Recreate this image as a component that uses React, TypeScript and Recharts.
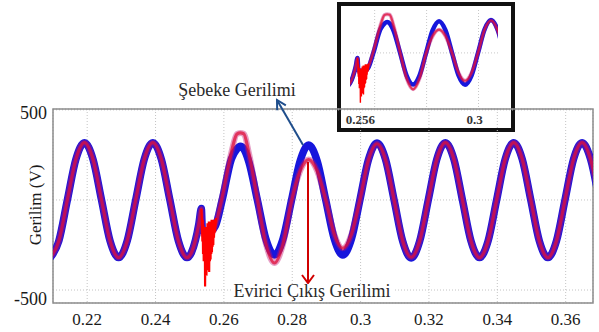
import { LineChart, Line, XAxis, YAxis, CartesianGrid, ReferenceArea } from 'recharts';

// time (s) shared by both voltage traces
const time = [
  0.2092, 0.2117, 0.2142, 0.2167, 0.2192, 0.2217, 0.2242, 0.2267, 0.2292, 0.2317,
  0.2342, 0.2367, 0.2392, 0.2417, 0.2442, 0.2467, 0.2492,
  0.2505, 0.2517, 0.2527, 0.2534, 0.2537, 0.256, 0.2575, 0.2595,
  0.2622, 0.2638, 0.2648, 0.2658, 0.2673, 0.2698, 0.2723, 0.2748, 0.2773, 0.2798,
  0.2823, 0.2848, 0.2873, 0.2898, 0.2923, 0.2948, 0.2973, 0.2998, 0.3023, 0.3048,
  0.3073, 0.3098, 0.3123, 0.3148, 0.3173, 0.3198, 0.3223, 0.3248, 0.3273, 0.3298,
  0.3323, 0.3348, 0.3373, 0.3398, 0.3423, 0.3448, 0.3473, 0.3498, 0.3523, 0.3548,
  0.3573, 0.3598, 0.3623, 0.3648, 0.3673, 0.3698,
];

// Şebeke gerilimi (blue)
const gridVoltage = [
  -320, -228, 0, 226, 318, 226, 0, -228, -320, -228,
  0, 226, 318, 226, 0, -228, -320,
  -292, -222, -130, -48, -168, -172, -145, 0,
  228, 283, 298, 284, 212, 0, -218, -305, -216, 0,
  216, 305, 216, 0, -216, -306, -218, 0, 224, 316,
  225, 0, -228, -322, -228, 0, 226, 318, 226, 0,
  -228, -320, -228, 0, 226, 318, 226, 0, -228, -320,
  -228, 0, 226, 318, 226, 0,
];

// Evirici çıkış gerilimi (red)
const inverterVoltage = [
  -320, -228, 0, 226, 318, 226, 0, -228, -320, -228,
  0, 226, 318, 226, 0, -228, -320,
  -292, -222, -130, -50, -190, -200, -140, 15,
  265, 366, 372, 368, 262, 5, -245, -350, -245, -5,
  160, 224, 160, 0, -190, -268, -192, 0, 222, 312,
  222, 0, -226, -318, -226, 0, 226, 318, 226, 0,
  -228, -320, -228, 0, 226, 318, 226, 0, -228, -320,
  -228, 0, 226, 318, 226, 0,
];

// switching transient on the inverter output
const noiseTime = [
  0.2534, 0.2536, 0.2537, 0.2538, 0.2539, 0.254, 0.2541, 0.2542, 0.2543, 0.2544,
  0.2545, 0.2546, 0.2547, 0.2548, 0.2549, 0.255, 0.2551, 0.2552, 0.2553, 0.2554,
  0.2555, 0.2556, 0.2557, 0.2558, 0.2559, 0.256, 0.2561, 0.2562, 0.2563, 0.2564,
  0.2565, 0.2566, 0.2567, 0.2568, 0.2569, 0.257, 0.2571, 0.2572, 0.2574, 0.2577,
];
const noiseVoltage = [
  -50, -120, -230, -110, -300, -140, -340, -160, -250, -150,
  -480, -180, -400, -150, -420, -170, -360, -130, -390, -150,
  -370, -120, -400, -140, -340, -120, -330, -130, -300, -110,
  -290, -120, -260, -110, -250, -120, -210, -110, -180, -100,
];

const xTicks = [0.22, 0.24, 0.26, 0.28, 0.3, 0.32, 0.34, 0.36];
const yTicks = [-500, 0, 500];
const insetTicks = [0.256, 0.3];

const data = time.map((t, i) => ({ t, grid: gridVoltage[i], inv: inverterVoltage[i] }));
const noiseData = noiseTime.map((t, i) => ({ t, v: noiseVoltage[i] }));

const FONT = '"Liberation Serif", serif';
const BLUE = '#1616dc';
const RED = '#e0103a';

const XTick = ({ x, y, payload }: any) => (
  <text x={x} y={y + 22} textAnchor="middle" fontSize={17} fontFamily={FONT} fill="#1a1a1a">
    {String(payload.value)}
  </text>
);

const YTick = ({ x, y, payload }: any) => {
  if (payload.value === 0) return <g />;
  const dy = payload.value > 0 ? 9 : 15;
  return (
    <text x={x - 6} y={y + dy} textAnchor="end" fontSize={18} fontFamily={FONT} fill="#1a1a1a">
      {String(payload.value)}
    </text>
  );
};

const InsetTick = ({ x, y, payload }: any) => (
  <text x={x - 4} y={y + 16} textAnchor="middle" fontSize={13} fontWeight="bold" fontFamily={FONT} fill="#333">
    {String(payload.value)}
  </text>
);

function arrowHead(x1: number, y1: number, x2: number, y2: number, len = 9, wing = 5) {
  const dx = x2 - x1;
  const dy = y2 - y1;
  const d = Math.hypot(dx, dy);
  const ux = dx / d;
  const uy = dy / d;
  const px = -uy;
  const py = ux;
  const bx = x2 - ux * len;
  const by = y2 - uy * len;
  return `M${bx + px * wing},${by + py * wing} L${x2},${y2} L${bx - px * wing},${by - py * wing}`;
}

function traces(blueW: number, redW: number, haloW: number, noiseW: number) {
  return [
    <Line key="b" data={data} dataKey="grid" type="monotone" stroke={BLUE} strokeWidth={blueW}
      dot={false} activeDot={false} isAnimationActive={false} />,
    <Line key="h" data={data} dataKey="inv" type="monotone" stroke="#c01070" strokeOpacity={0.4}
      strokeWidth={haloW} dot={false} activeDot={false} isAnimationActive={false} />,
    <Line key="r" data={data} dataKey="inv" type="monotone" stroke={RED} strokeOpacity={0.75}
      strokeWidth={redW} dot={false} activeDot={false} isAnimationActive={false} />,
    <Line key="n" data={noiseData} dataKey="v" type="linear" stroke="#ff0000" strokeWidth={noiseW}
      dot={false} activeDot={false} isAnimationActive={false} />,
  ];
}

export default function App() {
  return (
    <div style={{ position: 'absolute', left: 0, top: 0, width: 599, height: 332, background: '#fff', overflow: 'hidden' }}>
      {/* zoomed inset */}
      <div style={{ position: 'absolute', left: 337, top: 2, width: 178, height: 130, border: '4px solid #111',
        boxSizing: 'border-box', background: '#fff' }}>
        <LineChart width={170} height={122} margin={{ top: 4, right: 13, bottom: 0, left: 9 }}>
          <CartesianGrid stroke="#c8c8c8" strokeDasharray="1 2" horizontalValues={[0]}
            verticalValues={[0.26, 0.28, 0.3]} />
          <XAxis type="number" dataKey="t" domain={[0.2505, 0.3075]} allowDataOverflow ticks={insetTicks}
            height={20} tickSize={0} tickMargin={0} axisLine={false} tickLine={false} tick={<InsetTick />} />
          <YAxis type="number" domain={[-530, 413]} allowDataOverflow hide />
          {traces(4.5, 2.2, 3.8, 1.4)}
        </LineChart>
      </div>

      <div style={{ position: 'absolute', left: 0, top: 0 }}>
        <LineChart width={599} height={332} margin={{ top: 109, right: 6, bottom: 4, left: 13 }}>
          <CartesianGrid stroke="#c4c4c4" strokeDasharray="1 2" />
          <XAxis type="number" dataKey="t" domain={[0.21, 0.368]} allowDataOverflow ticks={xTicks}
            height={25} tickSize={0} tickMargin={0} axisLine={false} tickLine={false} tick={<XTick />}
            interval={0} />
          <YAxis type="number" domain={[-572, 505]} allowDataOverflow ticks={yTicks} width={40}
            tickSize={0} tickMargin={0} axisLine={false} tickLine={false} tick={<YTick />} interval={0} />
          <ReferenceArea x1={0.21} x2={0.368} y1={-572} y2={505} fill="none" stroke="#8c8c8c"
            strokeWidth={1.5} ifOverflow="visible" />
          {traces(7.5, 3.2, 6, 2.2)}
        </LineChart>
      </div>

      {/* labels and arrows */}
      <svg width={599} height={332} style={{ position: 'absolute', left: 0, top: 0, pointerEvents: 'none' }}>
        <text x={0} y={0} transform="translate(41,205) rotate(-90)" textAnchor="middle" fontSize={17}
          fontFamily={FONT} fill="#1a1a1a">Gerilim (V)</text>

        <text x={237} y={96} textAnchor="middle" fontSize={18} fontFamily={FONT} fill="#2a2a2a">Şebeke Gerilimi</text>
        <line x1={303} y1={145} x2={277} y2={100} stroke="#1f4e8c" strokeWidth={2} />
        <path d={arrowHead(303, 145, 277, 100)} stroke="#1f4e8c" strokeWidth={2} fill="none" />

        <line x1={308} y1={162} x2={308} y2={283} stroke="#d00000" strokeWidth={2} />
        <path d={arrowHead(308, 162, 308, 283, 8, 6)} stroke="#d00000" strokeWidth={2} fill="none" />
        <rect x={231} y={284} width={164} height={15} fill="#fff" />
        <text x={312} y={297} textAnchor="middle" fontSize={18} fontFamily={FONT} fill="#2a2a2a">Evirici Çıkış Gerilimi</text>
      </svg>
    </div>
  );
}
